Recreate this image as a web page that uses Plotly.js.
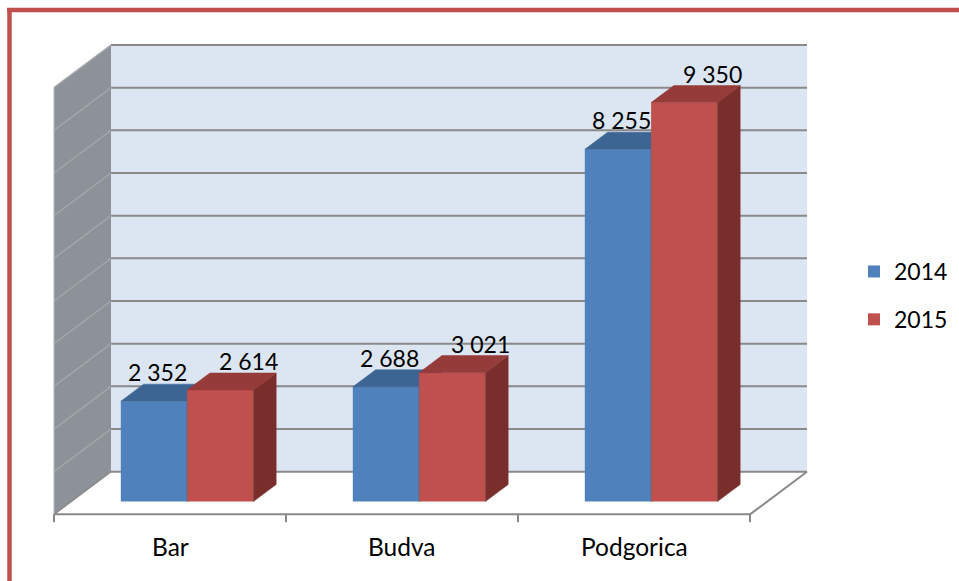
<!DOCTYPE html>
<html>
<head>
<meta charset="utf-8">
<script src="https://cdn.plot.ly/plotly-3.0.1.min.js"></script>
<style>html,body{margin:0;padding:0;background:#fff;}#chart{width:959px;height:581px;}</style>
</head>
<body>
<div id="chart"></div>
<script>
// ---- data ----
const categories = ['Bar', 'Budva', 'Podgorica'];
const seriesNames = ['2014', '2015'];
const values2014 = [2352, 2688, 8255];
const values2015 = [2614, 3021, 9350];
const valueMax = 10000;
const valueStep = 1000;

// ---- geometry / style constants ----
const W = 959, H = 581;
const X0PX = 111, PX_PER_CAT = 232;      // back wall left edge, px per category
const Y0PX = 471.7, PX_PER_VAL = 0.04267; // back wall floor line, px per value unit
const D = 57 / PX_PER_CAT;               // depth shift in category units
const DV = 1000;                          // depth shift in value units
const barW = 1 / 3.5;                     // gap width 150%
const fDepth = 0.7, bDepth = 0.3;         // bar front/back depth (fraction)
const FONT = 'Lato, "Open Sans", sans-serif';
const colors = {
  front: ['#4F81BD', '#C0504D'],
  top:   ['#3D6594', '#953B39'],
  side:  ['#335681', '#7A2E2C']
};
const labelDxPx = [4, 28];

const xr = [(0 - X0PX) / PX_PER_CAT, (W - X0PX) / PX_PER_CAT];
const yr = [(Y0PX - H) / PX_PER_VAL, Y0PX / PX_PER_VAL];
const pxToVal = py => (Y0PX - py) / PX_PER_VAL;
const fmt = v => String(v).replace(/\B(?=(\d{3})+(?!\d))/g, ' ');

const nCat = categories.length;
const seriesValues = [values2014, values2015];
const traces = [];
const annotations = [];

seriesValues.forEach((vals, s) => {
  const xa = s === 0 ? 'x' : 'x2';
  const ya = s === 0 ? 'y' : 'y2';
  const lefts = vals.map((v, i) => i + 0.5 - barW + s * barW);
  // front faces as a real bar trace
  traces.push({
    type: 'bar',
    name: seriesNames[s],
    legendgroup: 'g' + s,
    x: lefts.map(L => L + barW / 2 - fDepth * D),
    y: vals,
    base: vals.map(() => -fDepth * DV),
    width: vals.map(() => barW),
    marker: {color: colors.front[s], line: {width: 0}},
    xaxis: xa, yaxis: ya,
    hoverinfo: 'skip'
  });
  vals.forEach((v, i) => {
    const L = lefts[i], R = L + barW;
    // side face
    traces.push({
      type: 'scatter', mode: 'lines', fill: 'toself', showlegend: false, hoverinfo: 'skip',
      x: [R - fDepth * D, R - fDepth * D, R - bDepth * D, R - bDepth * D, R - fDepth * D],
      y: [-fDepth * DV, v - fDepth * DV, v - bDepth * DV, -bDepth * DV, -fDepth * DV],
      fillcolor: colors.side[s], line: {color: colors.side[s], width: 0.5},
      xaxis: xa, yaxis: ya
    });
    // top face
    traces.push({
      type: 'scatter', mode: 'lines', fill: 'toself', showlegend: false, hoverinfo: 'skip',
      x: [L - fDepth * D, R - fDepth * D, R - bDepth * D, L - bDepth * D, L - fDepth * D],
      y: [v - fDepth * DV, v - fDepth * DV, v - bDepth * DV, v - bDepth * DV, v - fDepth * DV],
      fillcolor: colors.top[s], line: {color: colors.top[s], width: 0.5},
      xaxis: xa, yaxis: ya
    });
    annotations.push({
      xref: 'x', yref: 'y',
      x: (L + R) / 2 - fDepth * D + labelDxPx[s] / PX_PER_CAT,
      y: v - bDepth * DV,
      yanchor: 'bottom', xanchor: 'center', yshift: -4,
      text: fmt(v), showarrow: false,
      font: {family: FONT, size: 23, color: '#000'}
    });
  });
});

categories.forEach((c, i) => {
  annotations.push({
    xref: 'x', yref: 'y', x: i + 0.5 - D, y: pxToVal(563),
    yanchor: 'bottom', xanchor: 'center', text: c, showarrow: false,
    font: {family: FONT, size: 24.5, color: '#000'}
  });
});

// ---- walls, floor, gridlines (shapes below traces) ----
const shapes = [];
const GRID = '#898989';
shapes.push({type: 'rect', xref: 'x', yref: 'y', layer: 'below', x0: 0, x1: nCat, y0: 0, y1: valueMax,
  fillcolor: '#DCE6F2', line: {width: 0}});
shapes.push({type: 'path', xref: 'x', yref: 'y', layer: 'below',
  path: `M0,0 L0,${valueMax} L${-D},${valueMax - DV} L${-D},${-DV} Z`,
  fillcolor: '#8D9298', line: {width: 0}});
shapes.push({type: 'path', xref: 'x', yref: 'y', layer: 'below',
  path: `M0,0 L${nCat},0 L${nCat - D},${-DV} L${-D},${-DV} Z`,
  fillcolor: '#FFFFFF', line: {width: 0}});
for (let v = 0; v <= valueMax; v += valueStep) {
  shapes.push({type: 'line', xref: 'x', yref: 'y', layer: 'below', x0: 0, x1: nCat, y0: v, y1: v,
    line: {color: GRID, width: 2}});
  shapes.push({type: 'line', xref: 'x', yref: 'y', layer: 'below', x0: 0, x1: -D, y0: v, y1: v - DV,
    line: {color: v === 0 ? GRID : '#A2A6AA', width: 1.5}});
}
shapes.push({type: 'line', xref: 'x', yref: 'y', layer: 'below', x0: -D, x1: -D, y0: -DV, y1: valueMax - DV,
  line: {color: '#B4B8BC', width: 1}});
shapes.push({type: 'line', xref: 'x', yref: 'y', layer: 'below', x0: -D, x1: nCat - D, y0: -DV, y1: -DV,
  line: {color: GRID, width: 2}});
shapes.push({type: 'line', xref: 'x', yref: 'y', layer: 'below', x0: nCat, x1: nCat - D, y0: 0, y1: -DV,
  line: {color: GRID, width: 2}});
for (let i = 0; i <= nCat; i++) {
  shapes.push({type: 'line', xref: 'x', yref: 'y', layer: 'below', x0: i - D, x1: i - D,
    y0: -DV, y1: -DV - 8 / PX_PER_VAL, line: {color: GRID, width: 2}});
}
// red frame
shapes.push({type: 'line', xref: 'paper', yref: 'paper', layer: 'above',
  x0: 7 / W, x1: 1.01, y0: 1 - 10 / H, y1: 1 - 10 / H, line: {color: '#C0504D', width: 4.5}});
shapes.push({type: 'line', xref: 'paper', yref: 'paper', layer: 'above',
  x0: 9.5 / W, x1: 9.5 / W, y0: 1 - 8 / H, y1: -0.01, line: {color: '#C0504D', width: 4.5}});

const axBase = {visible: false, fixedrange: true, showgrid: false, zeroline: false};
const layout = {
  width: W, height: H,
  margin: {l: 0, r: 0, t: 0, b: 0, pad: 0},
  paper_bgcolor: '#FFFFFF', plot_bgcolor: 'rgba(0,0,0,0)',
  barmode: 'overlay',
  xaxis: Object.assign({range: xr}, axBase),
  yaxis: Object.assign({range: yr}, axBase),
  xaxis2: Object.assign({range: xr, overlaying: 'x'}, axBase),
  yaxis2: Object.assign({range: yr, overlaying: 'y'}, axBase),
  showlegend: true,
  legend: {x: 854 / W, y: 1 - 250 / H, xanchor: 'left', yanchor: 'top',
    font: {family: FONT, size: 23, color: '#000'}, bgcolor: 'rgba(0,0,0,0)',
    tracegroupgap: 15, traceorder: 'grouped'},
  shapes: shapes,
  annotations: annotations,
  font: {family: FONT}
};

Plotly.newPlot('chart', traces, layout, {staticPlot: true, displayModeBar: false});
</script>
</body>
</html>
